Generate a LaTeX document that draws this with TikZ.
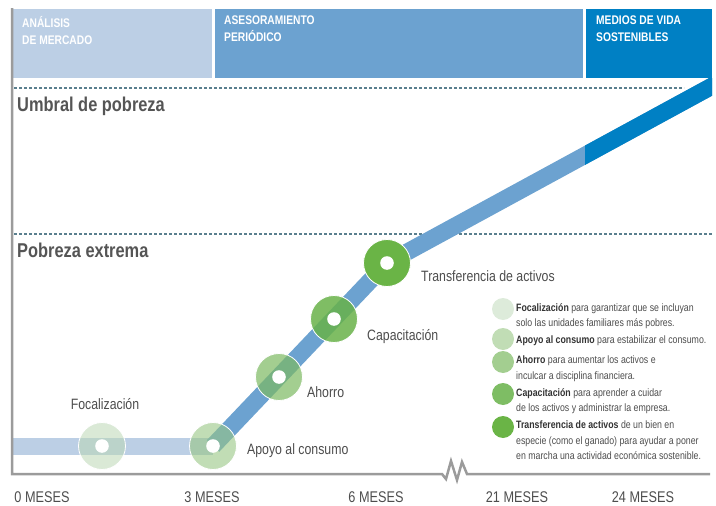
\documentclass[tikz,border=0pt]{standalone}
\usepackage{fontspec}
\setmainfont{Liberation Sans}[FakeStretch=0.82]
\definecolor{bara}{HTML}{BCCFE5}
\definecolor{barb}{HTML}{6CA2D0}
\definecolor{barc}{HTML}{0080C4}
\definecolor{axisgray}{HTML}{9B9B9B}
\definecolor{dashcol}{HTML}{5A7F8E}
\definecolor{txtgray}{HTML}{4D4D4D}
\definecolor{ttlgray}{HTML}{555555}
\definecolor{txtdark}{HTML}{333333}
\definecolor{ga}{HTML}{DDEBDA}
\definecolor{gb}{HTML}{C1DDB5}
\definecolor{gc}{HTML}{A3CE90}
\definecolor{gd}{HTML}{7EBD64}
\definecolor{ge}{HTML}{6AB446}
\definecolor{fa}{HTML}{BBD7B5}
\definecolor{fb}{HTML}{98C684}
\definecolor{fc}{HTML}{7CB961}
\definecolor{fd}{HTML}{68B249}
\begin{document}
\begin{tikzpicture}[x=1pt,y=-1pt,
  hdr/.style={font=\bfseries\fontsize{12.5}{17}\selectfont, text=white, align=left, inner sep=0pt, anchor=north west},
  ttl/.style={font=\bfseries\fontsize{20}{24}\selectfont, text=ttlgray, inner sep=0pt, anchor=base west},
  axl/.style={font=\fontsize{15.5}{18}\selectfont, text=txtgray, inner sep=0pt, anchor=base},
  lbl/.style={font=\fontsize{15}{18}\selectfont, text=txtgray, inner sep=0pt, anchor=base west},
  leg/.style={font=\fontsize{10.7}{15.5}\selectfont, text=txtgray, align=left, inner sep=0pt, anchor=north west},
  dotbig/.style={circle, minimum size=47pt, inner sep=0pt},
  dotleg/.style={circle, minimum size=22pt, inner sep=0pt},
  band/.style={line width=17pt, line cap=butt},
  dash line/.style={dashcol, line width=2pt, dash pattern=on 3pt off 2pt},
  axisline/.style={axisgray, line width=2.5pt, line join=miter}
]
\useasboundingbox (0,0) rectangle (716,506);

% top phase bars
\fill[bara] (13,9) rectangle (212,78);
\fill[barb] (215,9) rectangle (583,78);
\fill[barc] (586,9) rectangle (712,78);
\node[hdr] (h1) at (22,16) {ANÁLISIS\\DE MERCADO};
\node[hdr] (h2) at (224,16) {ASESORAMIENTO\\PERIÓDICO};
\node[hdr] (h3) at (596,16) {MEDIOS DE VIDA\\SOSTENIBLES};

% threshold lines
\draw[dash line] (14,88) -- (684,88);
\draw[dash line] (14,234) -- (712,234);
\node[ttl] (umbral) at (17,111.5) {Umbral de pobreza};
\node[ttl] (extrema) at (17,257) {Pobreza extrema};

% positions
\coordinate (start) at (13,446);
\coordinate (pfoc) at (102,446);
\coordinate (papo) at (213,446);
\coordinate (pahr) at (279,377);
\coordinate (pcap) at (334,319);
\coordinate (ptra) at (387,263);
\coordinate (ptop) at (760,60);

% path band
\draw[band, bara] (start) -- (papo);
\draw[band, barb] (papo) -- (ptra);
\begin{scope}
  \clip (0,78) rectangle (712,506);
  \draw[band, barb] (ptra) -- (ptop);
  \clip (585,0) rectangle (716,506);
  \draw[band, barc] (ptra) -- (ptop);
\end{scope}

% axes
\draw[axisline] (12,8) -- (12,474) -- (442,474) -- (446,479) -- (451,461) -- (457,480) -- (462,462) -- (467,474) -- (710,474);

% milestones
\node[dotbig, fill=fa, fill opacity=0.55] (foc) at (pfoc) {};
\node[dotbig, fill=fb, fill opacity=0.6] (apo) at (papo) {};
\node[dotbig, fill=fc, fill opacity=0.7] (ahr) at (pahr) {};
\node[dotbig, fill=fd, fill opacity=0.85] (cap) at (pcap) {};
\node[dotbig, fill=ge] (tra) at (ptra) {};
\foreach \n in {foc,apo,ahr,cap,tra}{
  \draw[white, line width=0.8pt] (\n.center) circle (23.5pt);
  \fill[white] (\n.center) circle (6.8pt);
}
\node[lbl, anchor=base] (lfoc) at (105,409) {Focalización};
\node[lbl] (lapo) at (247,454) {Apoyo al consumo};
\node[lbl] (lahr) at (307,397) {Ahorro};
\node[lbl] (lcap) at (367,340) {Capacitación};
\node[lbl] (ltra) at (421,281) {Transferencia de activos};

% axis labels
\node[axl] (m0) at (42,502) {0 MESES};
\node[axl] (m3) at (212,502) {3 MESES};
\node[axl] (m6) at (376,502) {6 MESES};
\node[axl] (m21) at (517,502) {21 MESES};
\node[axl] (m24) at (643,502) {24 MESES};

% legend
\node[dotleg, fill=ga] (k1) at (503,309) {};
\node[dotleg, fill=gb] (k2) at (503,339) {};
\node[dotleg, fill=gc] (k3) at (503,362) {};
\node[dotleg, fill=gd] (k4) at (503,394) {};
\node[dotleg, fill=ge] (k5) at (503,427) {};
\node[leg] (t1) at (516,303) {\textcolor{txtdark}{\bfseries Focalización} para garantizar que se incluyan\\solo las unidades familiares más pobres.};
\node[leg] (t2) at (516,336) {\textcolor{txtdark}{\bfseries Apoyo al consumo} para estabilizar el consumo.};
\node[leg] (t3) at (516,356) {\textcolor{txtdark}{\bfseries Ahorro} para aumentar los activos e\\inculcar a disciplina financiera.};
\node[leg] (t4) at (516,388) {\textcolor{txtdark}{\bfseries Capacitación} para aprender a cuidar\\de los activos y administrar la empresa.};
\node[leg] (t5) at (516,421) {\textcolor{txtdark}{\bfseries Transferencia de activos} de un bien en\\especie (como el ganado) para ayudar a poner\\en marcha una actividad económica sostenible.};
\end{tikzpicture}
\end{document}
